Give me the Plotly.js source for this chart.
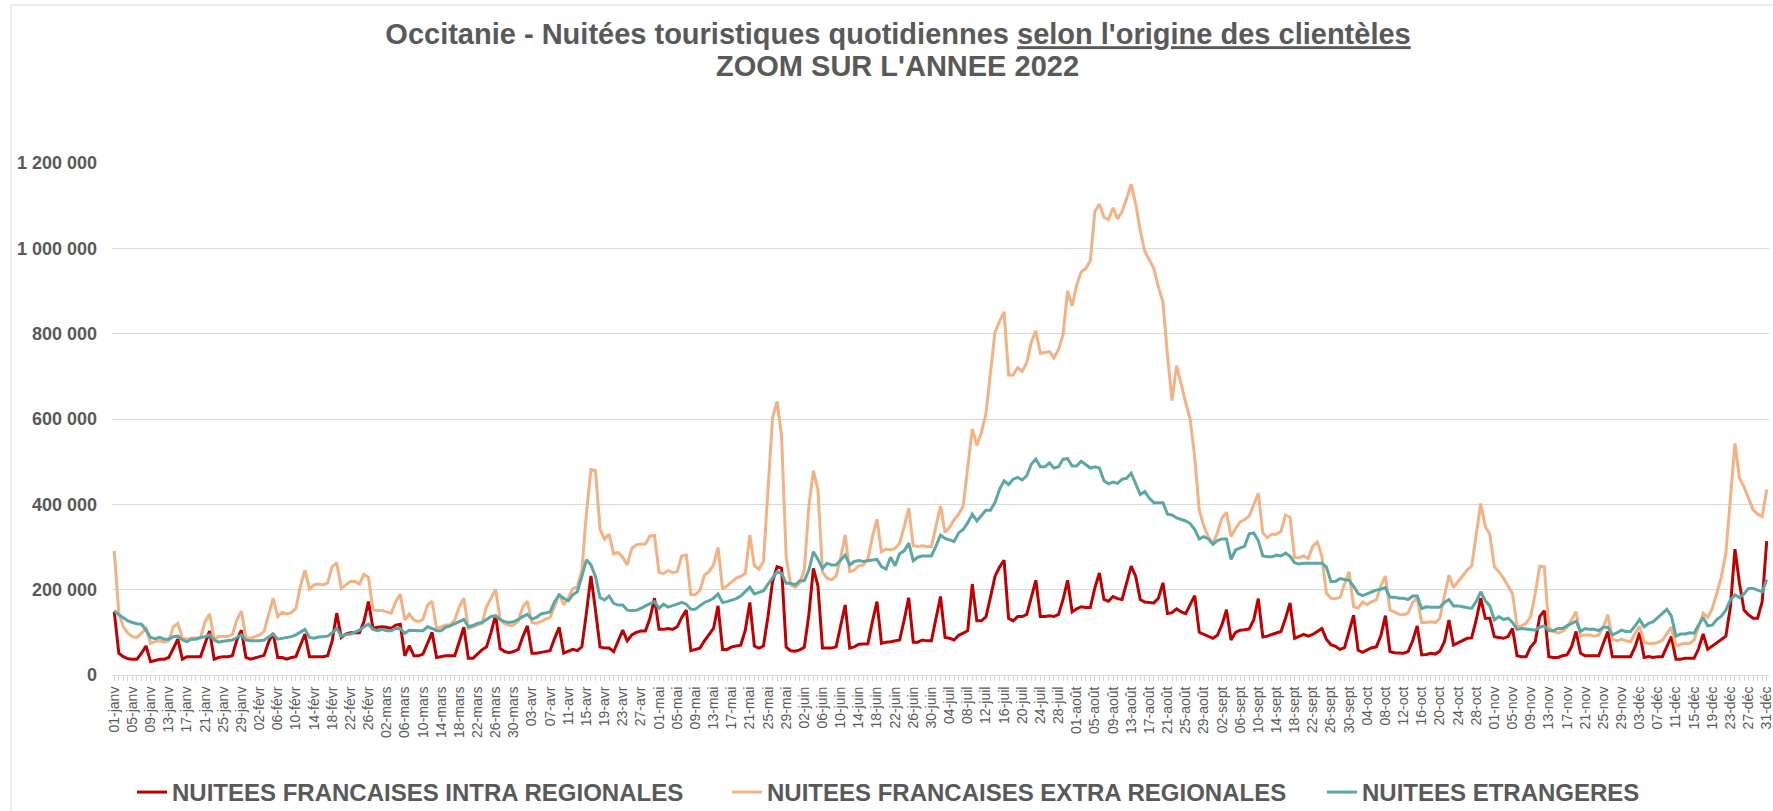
<!DOCTYPE html>
<html>
<head>
<meta charset="utf-8">
<script src="https://cdn.plot.ly/plotly-3.0.1.min.js"></script>
<style>html,body{margin:0;padding:0;background:#fff;}</style>
</head>
<body>
<div id="chart" style="width:1773px;height:811px;"></div>
<script>
// ---- categories (days of 2022) ----
const monthNames = ['janv','févr','mars','avr','mai','juin','juil','août','sept','oct','nov','déc'];
const monthDays = [31,28,31,30,31,30,31,31,30,31,30,31];
const categories = [];
monthNames.forEach((m, mi) => {
  for (let d = 1; d <= monthDays[mi]; d++) categories.push((d < 10 ? '0' : '') + d + '-' + m);
});
const tickLabels = categories.map((c, i) => (i % 4 === 0 ? c : ''));

const titleLine1 = "Occitanie - Nuitées touristiques quotidiennes <u>selon l'origine des clientèles</u>";
const titleLine2 = "ZOOM SUR L'ANNEE 2022";
const seriesNames = ['NUITEES FRANCAISES INTRA REGIONALES', 'NUITEES FRANCAISES EXTRA REGIONALES', 'NUITEES ETRANGERES'];
const yTicks = [0, 200000, 400000, 600000, 800000, 1000000, 1200000];

// ---- series values (nuitées) ----
const intraRegionales = [
148000,51000,43000,38000,37000,37000,51000,68000,31000,34000,
37000,37000,41000,62000,84000,37000,43000,43000,43000,43000,
74000,103000,37000,41000,43000,43000,45000,82000,105000,41000,
37000,40000,43000,46000,78000,98000,41000,41000,37000,41000,
43000,70000,96000,43000,43000,43000,43000,45000,80000,145000,
88000,96000,99000,99000,99000,125000,172000,109000,112000,113000,
112000,109000,117000,119000,45000,69000,45000,45000,49000,74000,
100000,41000,43000,45000,45000,45000,78000,112000,39000,39000,
49000,59000,66000,100000,141000,62000,55000,52000,55000,60000,
90000,115000,51000,51000,53000,55000,57000,86000,112000,51000,
55000,60000,57000,66000,145000,232000,152000,66000,63000,63000,
55000,78000,105000,80000,94000,100000,103000,103000,133000,180000,
107000,107000,109000,107000,113000,135000,152000,57000,60000,63000,
80000,94000,109000,162000,60000,60000,66000,68000,70000,105000,
170000,68000,63000,68000,137000,219000,254000,250000,65000,57000,
56000,59000,65000,141000,250000,209000,63000,63000,63000,66000,
115000,164000,63000,66000,72000,72000,73000,125000,172000,74000,
77000,78000,80000,82000,129000,181000,77000,77000,82000,80000,
80000,133000,184000,88000,86000,82000,93000,98000,104000,213000,
127000,127000,136000,182000,231000,253000,269000,133000,127000,137000,
137000,142000,182000,222000,137000,137000,139000,137000,142000,177000,
222000,148000,155000,160000,158000,158000,204000,239000,177000,173000,
184000,179000,177000,217000,255000,231000,177000,171000,170000,169000,
180000,216000,144000,146000,155000,148000,144000,164000,186000,100000,
95000,91000,86000,93000,118000,153000,82000,100000,105000,106000,
108000,129000,179000,89000,91000,95000,98000,102000,133000,169000,
86000,91000,95000,91000,95000,102000,109000,84000,71000,67000,
60000,64000,102000,140000,58000,53000,59000,64000,66000,92000,
139000,55000,52000,51000,51000,55000,80000,115000,47000,48000,
51000,49000,56000,78000,129000,70000,76000,82000,86000,87000,
129000,180000,133000,133000,90000,88000,86000,90000,109000,45000,
43000,43000,66000,78000,137000,151000,43000,41000,41000,45000,
47000,66000,102000,51000,45000,45000,45000,45000,74000,102000,
43000,43000,43000,43000,43000,66000,99000,41000,43000,41000,
43000,43000,66000,90000,37000,37000,39000,39000,39000,62000,
96000,60000,68000,76000,84000,91000,160000,295000,215000,152000,
141000,133000,133000,172000,314000
];

const extraRegionales = [
291000,145000,113000,98000,90000,88000,98000,109000,74000,78000,
80000,77000,80000,113000,121000,86000,84000,87000,87000,87000,
125000,143000,84000,90000,90000,91000,94000,129000,150000,88000,
86000,90000,94000,102000,141000,180000,137000,147000,143000,146000,
156000,207000,246000,201000,211000,213000,211000,216000,254000,263000,
203000,211000,219000,219000,213000,236000,229000,152000,152000,151000,
148000,145000,172000,189000,129000,143000,129000,125000,130000,164000,
173000,109000,113000,117000,117000,129000,160000,180000,109000,113000,
117000,121000,160000,180000,201000,129000,120000,116000,117000,127000,
160000,173000,123000,121000,125000,131000,135000,160000,191000,164000,
180000,203000,206000,246000,379000,482000,479000,342000,318000,330000,
284000,287000,276000,258000,297000,305000,307000,307000,326000,327000,
240000,238000,245000,240000,242000,279000,281000,188000,188000,198000,
234000,242000,258000,299000,201000,209000,219000,227000,231000,238000,
328000,256000,248000,266000,434000,602000,641000,559000,277000,211000,
206000,216000,246000,395000,479000,434000,242000,227000,223000,232000,
274000,328000,242000,246000,256000,258000,271000,324000,365000,289000,
295000,293000,297000,309000,348000,391000,303000,301000,303000,301000,
301000,349000,396000,334000,346000,364000,377000,396000,492000,577000,
538000,568000,612000,705000,803000,829000,851000,703000,703000,720000,
712000,732000,780000,807000,754000,756000,758000,743000,763000,798000,
900000,865000,914000,945000,953000,971000,1086000,1104000,1073000,1067000,
1095000,1069000,1086000,1117000,1150000,1104000,1042000,993000,971000,953000,
909000,874000,749000,643000,725000,680000,639000,599000,510000,386000,
349000,324000,308000,333000,368000,381000,324000,343000,359000,364000,
373000,399000,426000,333000,322000,330000,330000,337000,375000,370000,
275000,275000,279000,273000,302000,312000,279000,192000,180000,179000,
182000,213000,242000,160000,157000,171000,165000,172000,176000,209000,
232000,152000,148000,142000,141000,145000,170000,180000,123000,123000,
125000,123000,133000,185000,234000,205000,219000,232000,246000,255000,
328000,402000,348000,330000,254000,242000,227000,209000,191000,113000,
115000,121000,137000,191000,255000,254000,112000,102000,98000,102000,
112000,129000,148000,91000,94000,94000,91000,94000,112000,141000,
84000,80000,84000,80000,78000,98000,115000,76000,74000,74000,
76000,82000,96000,112000,68000,72000,74000,74000,82000,115000,
145000,135000,156000,191000,230000,285000,410000,543000,461000,441000,
414000,387000,377000,371000,435000
];

const etrangeres = [
151000,141000,134000,127000,123000,120000,119000,105000,88000,85000,
88000,84000,84000,90000,91000,82000,78000,84000,84000,88000,
90000,94000,82000,77000,79000,80000,82000,88000,94000,82000,
80000,80000,80000,82000,90000,96000,84000,86000,88000,90000,
94000,101000,107000,88000,86000,89000,90000,91000,99000,109000,
91000,95000,96000,100000,105000,113000,119000,107000,104000,107000,
104000,104000,109000,109000,98000,105000,104000,104000,104000,113000,
109000,104000,104000,112000,115000,121000,125000,130000,113000,116000,
121000,123000,129000,137000,138000,130000,125000,123000,125000,130000,
137000,142000,131000,135000,143000,146000,148000,172000,188000,180000,
174000,188000,195000,231000,270000,258000,231000,181000,176000,185000,
168000,164000,164000,152000,151000,152000,156000,162000,168000,172000,
156000,166000,159000,162000,166000,170000,166000,154000,154000,162000,
170000,174000,180000,190000,170000,172000,176000,179000,185000,195000,
206000,190000,193000,197000,213000,228000,242000,238000,215000,215000,
211000,221000,221000,246000,289000,271000,250000,262000,258000,258000,
270000,281000,258000,266000,268000,266000,268000,270000,271000,254000,
248000,276000,256000,284000,291000,309000,268000,276000,279000,279000,
279000,302000,328000,320000,317000,313000,333000,341000,357000,377000,
361000,373000,386000,386000,404000,435000,455000,446000,459000,463000,
457000,467000,494000,506000,488000,488000,497000,485000,488000,506000,
507000,490000,490000,501000,494000,485000,488000,485000,455000,448000,
452000,449000,459000,461000,473000,448000,423000,430000,414000,404000,
404000,404000,377000,375000,368000,364000,361000,355000,341000,319000,
324000,319000,306000,315000,319000,319000,271000,293000,297000,302000,
331000,333000,315000,279000,277000,277000,281000,279000,286000,278000,
263000,260000,262000,262000,262000,262000,262000,253000,219000,219000,
226000,224000,222000,208000,191000,186000,191000,195000,199000,201000,
205000,182000,182000,180000,180000,177000,185000,185000,156000,160000,
159000,159000,159000,170000,177000,162000,162000,160000,158000,156000,
172000,195000,174000,162000,129000,137000,130000,133000,123000,107000,
109000,108000,107000,105000,112000,115000,104000,104000,109000,109000,
115000,120000,126000,102000,109000,107000,107000,104000,112000,112000,
94000,99000,105000,102000,102000,115000,130000,113000,121000,125000,
135000,143000,154000,138000,91000,96000,96000,99000,98000,117000,
135000,115000,117000,130000,138000,152000,176000,188000,182000,190000,
203000,203000,199000,195000,224000
];

const colors = ['#C00000', '#F4B183', '#5BA7A4'];
const seriesValues = [intraRegionales, extraRegionales, etrangeres];
const legendWidths = [550, 550, 300];

const traces = seriesValues.map((vals, i) => ({
  type: 'scatter',
  mode: 'lines',
  name: seriesNames[i],
  x: categories,
  y: vals,
  line: {color: colors[i], width: 3},
  legendwidth: legendWidths[i],
  hovertemplate: '%{x}<br>%{y:,d}<extra>' + seriesNames[i] + '</extra>'
}));

const font = 'Liberation Sans, Arial, Helvetica, sans-serif';

const layout = {
  width: 1773,
  height: 811,
  margin: {l: 112, r: 4, t: 163, b: 136, autoexpand: false},
  paper_bgcolor: '#ffffff',
  plot_bgcolor: '#ffffff',
  separators: ', ',
  font: {family: font, color: '#595959'},
  title: {
    text: '<b>' + titleLine1 + '</b>',
    font: {family: font, size: 29, color: '#595959'},
    xref: 'container', x: 0.5065, xanchor: 'center',
    yref: 'container', y: 0.958, yanchor: 'middle'
  },
  annotations: [{
    text: '<b>' + titleLine2 + '</b>',
    xref: 'paper', x: 0.4743, xanchor: 'center',
    yref: 'paper', y: 1.1895, yanchor: 'middle',
    showarrow: false,
    font: {family: font, size: 29, color: '#595959'}
  }],
  xaxis: {
    type: 'category',
    range: [-0.5, categories.length - 0.5],
    tickmode: 'array',
    tickvals: categories,
    ticktext: tickLabels,
    tickangle: -90,
    ticks: 'outside',
    ticklen: 5,
    tickwidth: 1,
    tickcolor: '#d9d9d9',
    showline: true,
    linecolor: '#d9d9d9',
    linewidth: 1,
    showgrid: false,
    zeroline: false,
    automargin: false,
    tickfont: {family: font, size: 14, color: '#595959'}
  },
  yaxis: {
    range: [0, 1200000],
    tickmode: 'array',
    tickvals: yTicks,
    tickformat: ',d',
    showgrid: true,
    gridcolor: '#d9d9d9',
    gridwidth: 1,
    zeroline: false,
    showline: false,
    ticks: '',
    ticklabelstandoff: 14,
    automargin: false,
    tickfont: {family: font, size: 18, color: '#595959', weight: 'bold'}
  },
  showlegend: true,
  legend: {
    orientation: 'h',
    x: 0.01207, xanchor: 'left',
    y: -0.1855, yanchor: 'top',
    font: {family: font, size: 24, color: '#595959', weight: 'bold'},
    bgcolor: 'rgba(0,0,0,0)',
    itemwidth: 30
  },
  shapes: [{
    type: 'rect', xref: 'paper', yref: 'paper',
    x0: -0.061, x1: 1.2, y0: -0.6, y1: 1.3086,
    line: {color: '#d9d9d9', width: 1},
    fillcolor: 'rgba(0,0,0,0)',
    layer: 'below'
  }]
};

Plotly.newPlot('chart', traces, layout, {displayModeBar: false, responsive: false});
</script>
</body>
</html>
